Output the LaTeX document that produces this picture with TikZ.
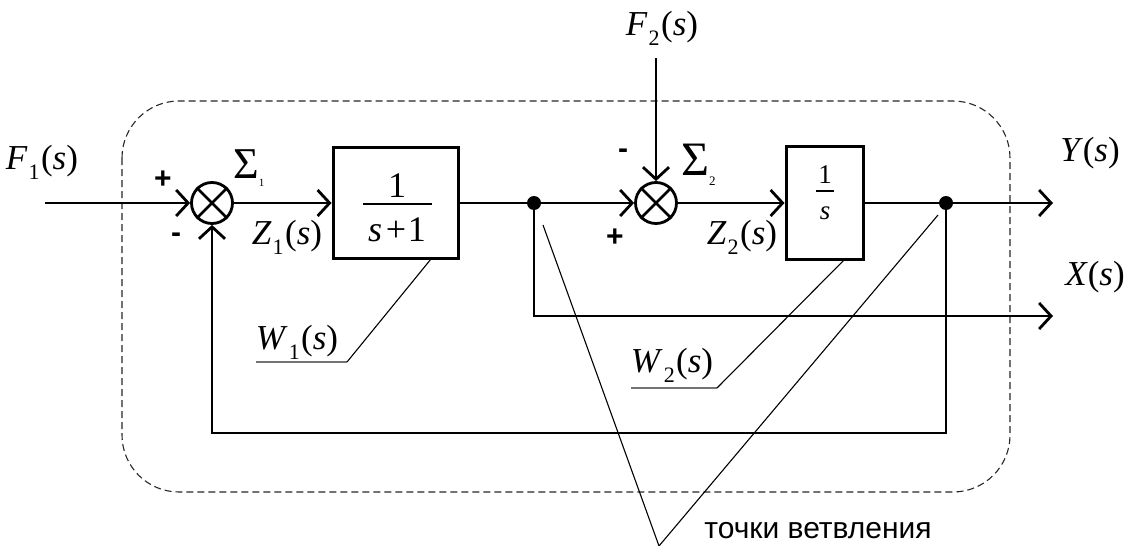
\documentclass[tikz,border=0pt]{standalone}
\usepackage{fontspec}
\setmainfont{Liberation Serif}
\newfontfamily\arialf{Liberation Sans}
\usetikzlibrary{arrows.meta}
\newcommand\mylbl[3]{\textit{#1}\kern0.03em\raisebox{-0.28em}{\fontsize{22}{22}\selectfont #2}\kern0.04em(\textit{#3})}
\tikzset{
  lab/.style={font=\fontsize{35}{38}\selectfont, inner sep=0},
  wire/.style={line width=2.8pt},
  arr/.style={wire, -{Straight Barb[length=12pt,width=26pt]}},
  blk/.style={draw, line width=3pt, inner sep=0},
  sumn/.style={circle, draw, line width=2.8pt, minimum size=41pt, inner sep=0},
  dotn/.style={circle, fill, minimum size=14pt, inner sep=0},
  lead/.style={line width=1.1pt},
  uline/.style={line width=1.4pt, black!55},
  sgn/.style={font=\arialf\bfseries\fontsize{30}{32}\selectfont, inner sep=0},
  frame/.style={dashed, dash pattern=on 7pt off 4pt, line width=1.1pt, black!85, rounded corners=57pt}
}
\begin{document}
\begin{tikzpicture}[x=1pt,y=-1pt]
\useasboundingbox (0,0) rectangle (1133,546);
% frame
\draw[frame] (122,101) rectangle (1010,492);
% blocks
\node[sumn] (s1) at (212,203) {};
\draw[line width=2.6pt] (s1.north west) -- (s1.south east) (s1.north east) -- (s1.south west);
\node[sumn] (s2) at (656,203) {};
\draw[line width=2.6pt] (s2.north west) -- (s2.south east) (s2.north east) -- (s2.south west);
\node[blk, minimum width=125pt, minimum height=111pt] (b1) at (395.5,203) {};
\node[font=\fontsize{36}{38}\selectfont, inner sep=0] (b1n) at (397,186) {1};
\draw[line width=2pt] (363,204) -- (432,204);
\node[font=\fontsize{36}{38}\selectfont, inner sep=0] (b1d) at (397,230) {\textit{s}\kern0.1em+\kern0.05em1};
\node[blk, minimum width=77pt, minimum height=113pt] (b2) at (824.5,203) {};
\node[font=\fontsize{27}{28}\selectfont, inner sep=0] (b2n) at (825,175) {1};
\draw[line width=1.5pt] (816,191) -- (834,191);
\node[font=\fontsize{27}{28}\selectfont, inner sep=0] (b2d) at (825,213) {\textit{s}};
\node[dotn] (d1) at (534,203) {};
\node[dotn] (d2) at (946,203) {};
% coordinates
\coordinate (f1in) at (45,203);
\coordinate (f2in) at (656,58);
\coordinate (yo) at (1053,203);
\coordinate (xo) at (1053,316);
\coordinate (fb) at (212,433);
% connectors
\draw[arr] (f1in) -- (s1);
\draw[arr] (s1) -- (b1);
\draw[wire] (b1) -- (d1);
\draw[arr] (d1) -- (s2);
\draw[arr] (f2in) -- (s2);
\draw[arr] (s2) -- (b2);
\draw[wire] (b2) -- (d2);
\draw[arr] (d2) -- (yo);
\draw[arr] (d1) |- (xo);
\draw[arr] (d2) |- (fb) -- (s1);
% signs and labels
\node[sgn] (p1) at (163,180) {+};
\node[sgn] (m1) at (176,238) {-};
\node[sgn] (m2) at (623,154) {-};
\node[sgn] (p2) at (615,238) {+};
\node[font=\fontsize{44}{46}\selectfont, inner sep=0, anchor=west] (sg1) at (233,168) {Σ\raisebox{-0.2em}{\fontsize{11}{11}\selectfont 1}};
\node[font=\fontsize{48}{50}\selectfont, inner sep=0, anchor=west] (sg2) at (681,165) {Σ\raisebox{-0.2em}{\fontsize{13}{13}\selectfont 2}};
\node[lab] (lf1) at (42,162) {\mylbl{F}{1}{s}};
\node[lab] (lf2) at (662,28) {\mylbl{F}{2}{s}};
\node[lab] (lz1) at (287,237) {\mylbl{Z}{1}{s}};
\node[lab] (lz2) at (742,237) {\mylbl{Z}{2}{s}};
\node[lab] (ly) at (1090,153) {\textit{Y}(\textit{s})};
\node[lab] (lx) at (1095,277) {\textit{X}(\textit{s})};
\node[lab] (lw1) at (297,342) {\mylbl{W}{1}{s}};
\node[lab] (lw2) at (672,365) {\mylbl{W}{2}{s}};
% leaders
\coordinate (w1a) at (256,362);
\coordinate (w1b) at (347,362);
\coordinate (w1c) at (431,259);
\coordinate (w2a) at (631,388);
\coordinate (w2b) at (717,388);
\coordinate (w2c) at (845,259);
\draw[uline] (w1a) -- (w1b);
\draw[lead] (w1b) -- (w1c);
\draw[uline] (w2a) -- (w2b);
\draw[lead] (w2b) -- (w2c);
\coordinate (pa) at (543,225);
\coordinate (pb) at (938,215);
\coordinate (pc) at (659,546);
\draw[lead] (pa) -- (pc) -- (pb);
\node[font=\arialf\fontsize{30}{34}\selectfont, inner sep=0] (tv) at (818,531) {точки ветвления};
\end{tikzpicture}
\end{document}
